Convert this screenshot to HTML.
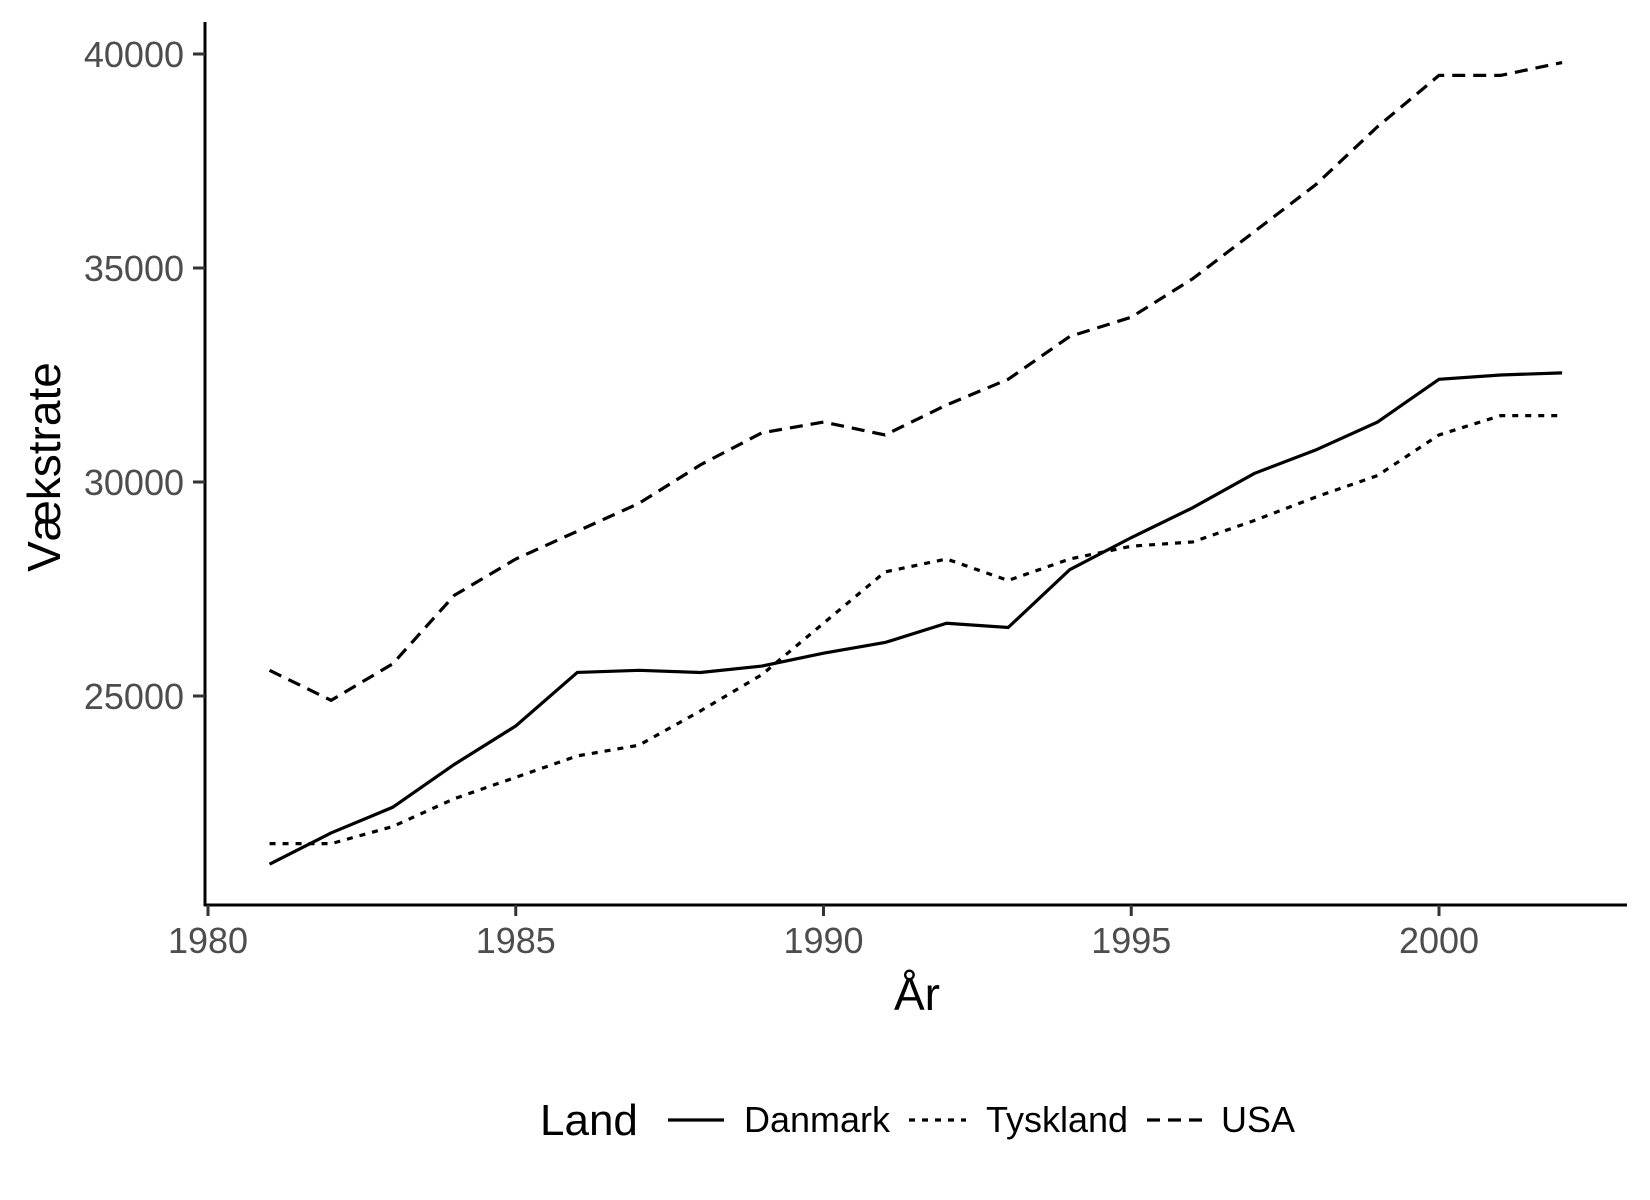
<!DOCTYPE html>
<html><head><meta charset="utf-8"><style>
html,body{margin:0;padding:0;background:#fff;}
svg{display:block;font-family:"Liberation Sans",Arial,sans-serif;}
</style></head><body>
<svg id="chart" width="1650" height="1200" viewBox="0 0 1650 1200">
<g id="plot"></g>
<line x1="205" y1="22" x2="205" y2="906" stroke="#000" stroke-width="3"/>
<line x1="204" y1="905" x2="1627" y2="905" stroke="#000" stroke-width="3"/>
<g id="yticks"></g>
<g id="xticks"></g>
<text x="917" y="1010" font-size="46" text-anchor="middle" fill="#000">År</text>
<text transform="translate(60,467) rotate(-90)" font-size="46" text-anchor="middle" fill="#000">Vækstrate</text>
<g>
<text x="540" y="1135" font-size="44" fill="#000">Land</text>
<g>
<line x1="668" y1="1120" x2="724" y2="1120" stroke="#000" stroke-width="3.2"/>
<text x="744" y="1132" font-size="36" fill="#000">Danmark</text></g>
<g>
<line x1="909" y1="1120" x2="966" y2="1120" stroke="#000" stroke-width="3.2" stroke-dasharray="6,7"/>
<text x="986" y="1132" font-size="36" fill="#000">Tyskland</text></g>
<g>
<line x1="1147" y1="1120" x2="1205" y2="1120" stroke="#000" stroke-width="3.2" stroke-dasharray="13,8"/>
<text x="1221" y="1132" font-size="36" fill="#000">USA</text></g>
</g>
</svg>
<script>
const years=[1981,1982,1983,1984,1985,1986,1987,1988,1989,1990,1991,1992,1993,1994,1995,1996,1997,1998,1999,2000,2001,2002];
const danmark=[21070,21800,22400,23400,24300,25550,25600,25550,25700,26000,26250,26700,26600,27950,28700,29400,30200,30750,31400,32400,32500,32550];
const tyskland=[21550,21550,21950,22600,23100,23600,23850,24650,25500,26700,27900,28200,27700,28200,28500,28600,29100,29650,30150,31100,31550,31550];
const usa=[25600,24900,25750,27350,28200,28850,29500,30400,31150,31400,31100,31800,32400,33400,33850,34750,35850,36950,38300,39500,39500,39800];
const yTicks=[25000,30000,35000,40000];
const xTicks=[1980,1985,1990,1995,2000];
const NS='http://www.w3.org/2000/svg';
function xs(v){return 208+(v-1980)*(1439-208)/20;}
function ys(v){return 54+(40000-v)*(268-54)/5000;}
const plot=document.getElementById('plot');
function series(vals,dash,name){
  const p=document.createElementNS(NS,'polyline');
  p.setAttribute('points',vals.map((v,i)=>xs(years[i])+','+ys(v)).join(' '));
  p.setAttribute('fill','none');p.setAttribute('stroke','#000');p.setAttribute('stroke-width','3.2');
  if(dash)p.setAttribute('stroke-dasharray',dash);
  
  
  plot.appendChild(p);
}
series(danmark,null,'series-danmark');
series(tyskland,'6,7','series-tyskland');
series(usa,'13,8','series-usa');
const yt=document.getElementById('yticks');
yTicks.forEach(v=>{
  const l=document.createElementNS(NS,'line');
  l.setAttribute('x1',193);l.setAttribute('x2',205);l.setAttribute('y1',ys(v));l.setAttribute('y2',ys(v));
  l.setAttribute('stroke','#333');l.setAttribute('stroke-width','3');
  
  
  yt.appendChild(l);
  const t=document.createElementNS(NS,'text');
  t.setAttribute('x',184);t.setAttribute('y',ys(v)+13);t.setAttribute('text-anchor','end');
  t.setAttribute('font-size','36');t.setAttribute('fill','#4d4d4d');t.textContent=v;
  
  
  yt.appendChild(t);
});
const xt=document.getElementById('xticks');
xTicks.forEach(v=>{
  const l=document.createElementNS(NS,'line');
  l.setAttribute('x1',xs(v));l.setAttribute('x2',xs(v));l.setAttribute('y1',905);l.setAttribute('y2',916);
  l.setAttribute('stroke','#333');l.setAttribute('stroke-width','3');
  
  
  xt.appendChild(l);
  const t=document.createElementNS(NS,'text');
  t.setAttribute('x',xs(v));t.setAttribute('y',953);t.setAttribute('text-anchor','middle');
  t.setAttribute('font-size','36');t.setAttribute('fill','#4d4d4d');t.textContent=v;
  
  
  xt.appendChild(t);
});
</script>
</body></html>
